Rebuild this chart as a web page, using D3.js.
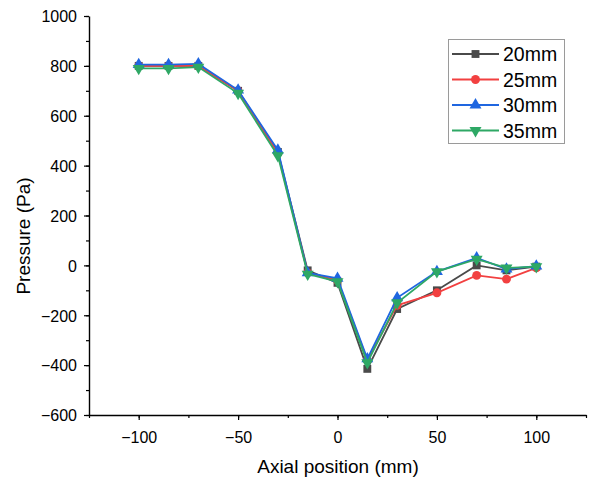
<!DOCTYPE html>
<html>
<head>
<meta charset="utf-8">
<script src="https://cdn.jsdelivr.net/npm/d3@7"></script>
<style>
  body { margin: 0; background: #fff; }
  text { font-family: "Liberation Sans", Arial, sans-serif; }
</style>
</head>
<body>
<div id="chart-area"></div>
<script>
// data
var positions = [-100, -85, -70, -50, -30, -15, 0, 15, 30, 50, 70, 85, 100];
var p20 = [800, 800, 800, 700, 455, -20, -70, -415, -175, -100, 0, -20, -5];
var p25 = [800, 800, 800, 700, 450, -30, -60, -380, -160, -110, -40, -55, -10];
var p30 = [805, 805, 808, 703, 462, -30, -52, -375, -130, -25, 30, -15, -3];
var p35 = [790, 790, 795, 690, 440, -35, -65, -390, -150, -25, 25, -10, -5];
var seriesNames = ["20mm", "25mm", "30mm", "35mm"];
var colors = ["#4a4a4a", "#f24040", "#1f66e0", "#2ea865"];
var symbols = [d3.symbolSquare, d3.symbolCircle, d3.symbolTriangle, "down"];
var xTicks = [-100, -50, 0, 50, 100];
var yTicks = [-600, -400, -200, 0, 200, 400, 600, 800, 1000];

var margin = { left: 89, right: 4, top: 16, bottom: 68 };
var width = 590 - margin.left - margin.right,
    height = 483 - margin.top - margin.bottom;

var svg = d3.select("#chart-area")
    .append("svg")
        .attr("width", 590)
        .attr("height", 483);
var g = svg.append("g")
        .attr("transform", "translate(" + margin.left + ", " + margin.top + ")");

var x = d3.scaleLinear().domain([-125, 125]).range([0, width]);
var y = d3.scaleLinear().domain([-600, 1000]).range([height, 0]);

// minor ticks first
g.append("g")
    .attr("transform", "translate(0," + height + ")")
    .call(d3.axisBottom(x).tickValues(d3.range(-125, 126, 25)).tickSize(3).tickFormat(""))
    .call(function(a){ a.select(".domain").remove(); });
g.append("g")
    .call(d3.axisLeft(y).tickValues(d3.range(-600, 1001, 100)).tickSize(3).tickFormat(""))
    .call(function(a){ a.select(".domain").remove(); });

var fmt = function(d){ return d < 0 ? "\u2212" + Math.abs(d) : d; };
// X Axis
var xAxis = g.append("g")
    .attr("transform", "translate(0," + height + ")")
    .call(d3.axisBottom(x).tickValues(xTicks).tickSize(5).tickSizeOuter(0).tickFormat(fmt));
// Y Axis
var yAxis = g.append("g")
    .call(d3.axisLeft(y).tickValues(yTicks).tickSize(5).tickSizeOuter(0).tickFormat(fmt));

[xAxis, yAxis].forEach(function(a){
    a.attr("font-size", null).attr("font-family", null);
    a.selectAll("text")
        .style("font-size", "16px")
        .attr("fill", "#000");
    a.select(".domain").attr("stroke-width", 1.4);
});
xAxis.selectAll("text").attr("y", 0).attr("dy", 0).attr("transform", "translate(0,28)");
yAxis.selectAll("text").attr("x", -12).attr("dy", "0.36em");
g.selectAll(".tick line").attr("stroke", "#000").attr("stroke-width", 1.2);

// Labels
svg.append("text")
    .attr("x", 338)
    .attr("y", 473)
    .style("font-size", "19px")
    .attr("text-anchor", "middle")
    .text("Axial position (mm)");
svg.append("text")
    .attr("transform", "translate(30,236) rotate(-90)")
    .style("font-size", "19px")
    .attr("text-anchor", "middle")
    .text("Pressure (Pa)");

function markerPath(sym, size) {
    if (sym === "down") return d3.symbol(d3.symbolTriangle, size)();
    return d3.symbol(sym, size)();
}
function markerTransform(sym, px, py) {
    return "translate(" + px + "," + py + ")" + (sym === "down" ? " rotate(180)" : "");
}

var all = [p20, p25, p30, p35];
var line = d3.line()
    .x(function(d, i){ return x(positions[i]); })
    .y(function(d){ return y(d); });

all.forEach(function(vals, k) {
    g.append("path")
        .attr("d", line(vals))
        .attr("fill", "none")
        .attr("stroke", colors[k])
        .attr("stroke-width", 1.8);
    g.selectAll(".m" + k)
        .data(vals)
        .enter()
        .append("path")
            .attr("class", "m" + k)
            .attr("d", markerPath(symbols[k], 62))
            .attr("transform", function(d, i){ return markerTransform(symbols[k], x(positions[i]), y(d)); })
            .attr("fill", colors[k]);
});

// Legend
var legend = svg.append("g");
legend.append("rect")
    .attr("x", 448.5).attr("y", 39.5)
    .attr("width", 116).attr("height", 104)
    .attr("fill", "#fff").attr("stroke", "#9a9a9a").attr("stroke-width", 1);
seriesNames.forEach(function(name, k) {
    var ly = 54 + k * 25.5;
    legend.append("line")
        .attr("x1", 452).attr("x2", 499)
        .attr("y1", ly).attr("y2", ly)
        .attr("stroke", colors[k]).attr("stroke-width", 1.8);
    legend.append("path")
        .attr("d", markerPath(symbols[k], 62))
        .attr("transform", markerTransform(symbols[k], 475.5, ly))
        .attr("fill", colors[k]);
    legend.append("text")
        .attr("x", 503).attr("y", ly + 7)
        .style("font-size", "19.5px")
        .text(name);
});
</script>
</body>
</html>
